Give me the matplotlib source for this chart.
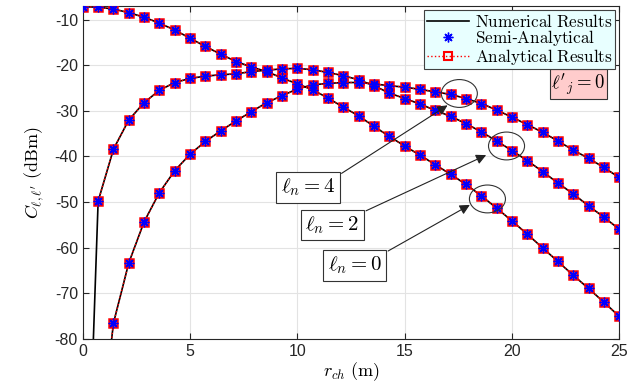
import numpy as np
import matplotlib
matplotlib.use('Agg')
from matplotlib import pyplot as plt
from matplotlib.patches import Ellipse

# 数学字体用CM, 刻度用无衬线
plt.rcParams['mathtext.fontset'] = 'cm'
plt.rcParams['font.family'] = ['Liberation Sans', 'DejaVu Sans']
plt.rcParams['axes.unicode_minus'] = False

# 横轴: r_ch (m), 36个采样点
r_ch = np.linspace(0, 25, 36)

# ell_n = 0
c_l0 = [-7.2, -7.3, -7.7, -8.5, -9.5, -10.8, -12.3, -14.1, -15.9, -17.6,
        -19.2, -20.4, -21.4, -22.8, -24.1, -25.4, -27.2, -29.2, -31.1, -33.4,
        -35.6, -37.7, -39.7, -41.8, -43.9, -46.1, -48.6, -51.3, -54.1, -57.0,
        -60.0, -63.0, -66.0, -68.9, -71.9, -75.0]
# ell_n = 2
c_l2 = [np.nan, -49.8, -38.4, -32.0, -28.2, -25.5, -23.8, -22.9, -22.4, -22.1,
        -21.9, -21.4, -21.1, -20.8, -20.7, -21.0, -21.6, -22.3, -23.2, -24.5,
        -26.1, -27.3, -28.5, -29.9, -31.2, -32.8, -34.6, -36.6, -38.7, -40.9,
        -43.3, -45.8, -48.2, -50.8, -53.3, -55.9]
# ell_n = 4
c_l4 = [np.nan, -106.0, -76.5, -63.3, -54.3, -47.9, -43.1, -39.5, -36.7, -34.4,
        -32.2, -30.2, -28.2, -26.7, -25.2, -24.3, -24.0, -23.8, -23.8, -24.1,
        -24.5, -24.8, -25.3, -25.85, -26.4, -27.3, -28.4, -29.8, -31.4, -33.0,
        -34.7, -36.6, -38.6, -40.4, -42.4, -44.6]
# 数值结果在 r=0 处有值
c_l2_num = [-147.0] + c_l2[1:]

curves_num = [c_l0, c_l2_num, c_l4]
curves_ana = [c_l0, c_l2, c_l4]

fig = plt.figure(figsize=(6.37, 3.88), dpi=100)
ax = fig.add_axes([0.13, 0.126, 0.842, 0.859])

for num, ana in zip(curves_num, curves_ana):
    # 解析结果: 红色点线 + 方块
    ax.plot(r_ch, ana, color='r', linestyle=':', linewidth=1.0, marker='s',
            markersize=6, markerfacecolor='none', markeredgecolor='r',
            markeredgewidth=1.8, zorder=3)
    # 数值结果: 黑色实线
    ax.plot(r_ch, num, color='k', linewidth=1.2, zorder=2)
    # 半解析: 蓝色星号
    ax.plot(r_ch, ana, linestyle='none', marker=(8, 2, 0), markersize=7,
            markeredgecolor='b', markeredgewidth=1.0, zorder=4)

# 图例句柄
h_num, = ax.plot([], [], color='k', linewidth=1.2)
h_semi, = ax.plot([], [], linestyle='none', marker=(8, 2, 0), markersize=7,
                  markeredgecolor='b', markeredgewidth=1.0)
h_ana, = ax.plot([], [], color='r', linestyle=':', linewidth=1.0, marker='s',
                 markersize=6, markerfacecolor='none', markeredgecolor='r',
                 markeredgewidth=1.5)
leg = ax.legend([h_num, h_semi, h_ana],
                [r'$\mathrm{Numerical\ Results}$', r'$\mathrm{Semi}$-$\mathrm{Analytical}$',
                 r'$\mathrm{Analytical\ Results}$'],
                loc='upper right', fontsize=12.3, fancybox=False, framealpha=1,
                borderaxespad=0.25, handlelength=2.5, handletextpad=0.3,
                labelspacing=-0.08, borderpad=0.15)
leg.get_frame().set_facecolor('#E8FFFF')
leg.get_frame().set_edgecolor('#404040')
leg.get_frame().set_linewidth(0.8)
leg.set_zorder(10)

# 标注圆圈 + 箭头 + 文本框
labels = [r'$\ell_n = 4$', r'$\ell_n = 2$', r'$\ell_n = 0$']
circle_xy = [(17.55, -26.2), (19.75, -37.7), (18.86, -49.3)]
arrow_tip = [(17.0, -28.8), (18.8, -39.7), (18.04, -50.6)]
box_xy = [(10.49, -46.8), (11.62, -55.0), (12.67, -63.8)]
box_corner = [(12.06, -43.7), (13.2, -51.9), (14.23, -60.7)]

for lab, cxy, tip, bxy, bc in zip(labels, circle_xy, arrow_tip, box_xy, box_corner):
    ax.add_patch(Ellipse(cxy, 1.68, 6.1, fill=False, edgecolor='#333333',
                         linewidth=0.8, zorder=6))
    ax.annotate('', xy=tip, xytext=bc,
                arrowprops=dict(arrowstyle='-|>', color='#222222', lw=0.8,
                                mutation_scale=15, shrinkA=0, shrinkB=0), zorder=6)
    ax.text(bxy[0], bxy[1], lab, fontsize=15, ha='center', va='center', zorder=7,
            bbox=dict(boxstyle='square,pad=0.22', facecolor='white',
                      edgecolor='#333333', linewidth=0.8))

ax.text(23.1, -24.1, r"$\ell'_j = 0$", fontsize=13.5, ha='center', va='center',
        zorder=7, bbox=dict(boxstyle='square,pad=0.1', facecolor='#FFCCCC',
                            edgecolor='#333333', linewidth=0.8))

# 坐标轴
ax.set_xlim(0, 25)
ax.set_ylim(-80, -7)
ax.set_xticks(np.arange(0, 26, 5))
ax.set_yticks(np.arange(-80, -9, 10))
ax.grid(True, color='#E3E3E3', linewidth=0.8)
ax.set_axisbelow(True)
ax.tick_params(direction='in', top=True, right=True, labelsize=11.5,
               colors='#262626', length=4)
for sp in ax.spines.values():
    sp.set_color('#262626')
    sp.set_linewidth(0.8)

ax.set_xlabel(r'$r_{ch}\ \mathrm{(m)}$', fontsize=13, labelpad=1)
ax.set_ylabel(r"$C_{\ell,\ell'}\ \mathrm{(dBm)}$", fontsize=13, labelpad=6)

plt.savefig('out.png', dpi=100)
